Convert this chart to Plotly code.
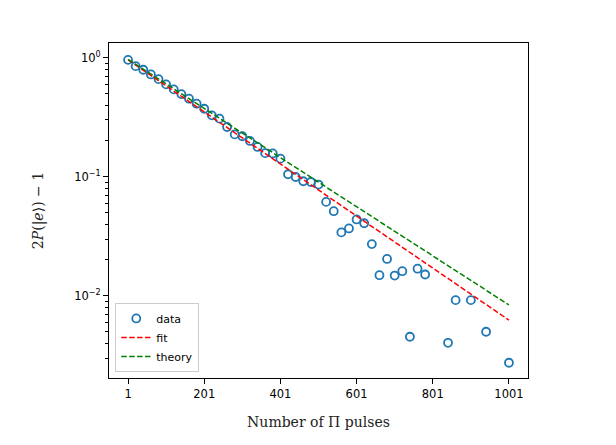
import plotly.graph_objects as go
import numpy as np

# Data: number of pulses (step 20) and measured 2P(|e>)-1 ; None = not shown (non-positive)
pulses = list(range(1, 1002, 20))
data_vals = [0.96, 0.850, 0.793, 0.724, 0.661, 0.597, 0.542, 0.495, 0.453, 0.411,
             0.373, 0.328, 0.308, 0.262, 0.227, 0.219, 0.200, 0.178, 0.158, 0.157,
             0.142, 0.105, 0.0996, 0.0917, 0.0904, 0.0860, 0.0615, 0.0514, 0.0341, 0.0368,
             0.0438, 0.0407, 0.0272, 0.0149, 0.0204, 0.0148, 0.0161, 0.00453, 0.0169, 0.0151,
             None, None, 0.00403, 0.0092, None, 0.0092, None, 0.00499, None, None,
             0.00274]

# Fit and theory lines (exponential decays: straight on log axis), endpoints
line_x = [1, 1001]
fit_vals = [0.96, 0.00625]
theory_vals = [0.97, 0.00838]

x_ticks = [1, 201, 401, 601, 801, 1001]
x_ticktext = ["1", "201", "401", "601", "801", "1001"]
y_ticks = [1, 0.1, 0.01]
y_ticktext = ["10<sup>0</sup>", "10<sup>−1</sup>", "10<sup>−2</sup>"]
y_minor = [m * 10.0 ** e for e in (-3, -2, -1) for m in range(2, 10)]

fig = go.Figure()
fig.add_trace(go.Scatter(x=pulses, y=data_vals, mode="markers", name="data",
                         marker=dict(symbol="circle-open", size=8, color="#1f77b4",
                                     line=dict(width=1.8, color="#1f77b4"))))
fig.add_trace(go.Scatter(x=line_x, y=fit_vals, mode="lines", name="fit",
                         line=dict(color="#ff0000", width=1.5, dash="5.5px,2.4px")))
fig.add_trace(go.Scatter(x=line_x, y=theory_vals, mode="lines", name="theory",
                         line=dict(color="#008000", width=1.5, dash="5.5px,2.4px")))

tickfont = dict(family="DejaVu Sans", size=11.5, color="black")
fig.update_layout(
    width=616, height=445,
    margin=dict(l=109, r=88, t=43, b=67),
    plot_bgcolor="white", paper_bgcolor="white",
    showlegend=True,
    legend=dict(x=0.015, y=0.018, xanchor="left", yanchor="bottom",
                bgcolor="rgba(255,255,255,0.8)", bordercolor="#cccccc", borderwidth=1,
                font=dict(family="DejaVu Sans", size=11, color="black"),
                tracegroupgap=0, itemwidth=30),
    xaxis=dict(range=[-49, 1051], tickvals=x_ticks, ticktext=x_ticktext,
               showgrid=False, zeroline=False, showline=True, linecolor="black", linewidth=1,
               mirror=True, ticks="outside", ticklen=5, tickwidth=1, tickcolor="black",
               tickfont=tickfont,
               title=dict(text="Number of Π pulses",
                          font=dict(family="DejaVu Serif", size=14, color="#222222"),
                          standoff=17)),
    yaxis=dict(type="log", range=[np.log10(0.00204), np.log10(1.33)],
               tickvals=y_ticks, ticktext=y_ticktext,
               showgrid=False, zeroline=False, showline=True, linecolor="black", linewidth=1,
               mirror=True, ticks="outside", ticklen=5, tickwidth=1, tickcolor="black",
               tickfont=tickfont,
               minor=dict(tickvals=y_minor, ticks="outside", ticklen=3, tickwidth=0.8,
                          tickcolor="black", showgrid=False),
               title=dict(text="2<i>P</i>(|<i>e</i>⟩) − 1",
                          font=dict(family="DejaVu Serif", size=14, color="#222222"),
                          standoff=27)),
)

fig.write_html("out.html")
